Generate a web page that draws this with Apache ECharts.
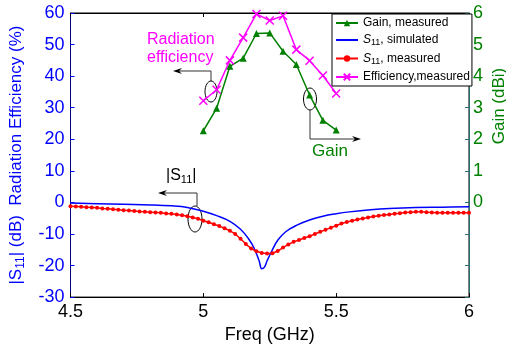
<!DOCTYPE html>
<html>
<head>
<meta charset="utf-8">
<script src="https://cdn.jsdelivr.net/npm/echarts@6/dist/echarts.min.js"></script>
<style>
  html, body { margin: 0; padding: 0; background: #fff; }
  #chart { width: 506px; height: 349px; }
</style>
</head>
<body>
<div id="chart"></div>
<script>
// frequency points for gain / efficiency (GHz)
var freqMeas = [5.0, 5.05, 5.1, 5.15, 5.2, 5.25, 5.3, 5.35, 5.4, 5.45, 5.5];
var gainMeas = [2.27, 2.98, 4.31, 4.57, 5.35, 5.37, 4.79, 4.37, 3.40, 2.60, 2.29];
var effMeas = [32.2, 35.7, 45.0, 52.2, 59.7, 57.6, 59.1, 48.4, 44.9, 40.2, 34.5];

// simulated |S11| (dB)
var s11SimFreq = [4.5, 4.6, 4.7, 4.8, 4.88, 4.94, 5.0, 5.05, 5.1, 5.14, 5.17, 5.19, 5.21, 5.22,
  5.23, 5.24, 5.26, 5.28, 5.31, 5.35, 5.4, 5.45, 5.5, 5.55, 5.63, 5.7, 5.8, 5.9, 6.0];
var s11Sim = [-0.2, -0.4, -0.6, -0.8, -1.1, -1.6, -2.8, -4.2, -6.0, -8.5, -11.5, -14.3, -18.5, -21.0,
  -20.5, -18.5, -15.0, -12.0, -9.3, -7.3, -5.6, -4.4, -3.6, -3.0, -2.3, -1.9, -1.6, -1.5, -1.4];

// measured |S11| (dB), 4.5 .. 6.0 step 0.02
var s11MeasStart = 4.5, s11MeasStep = 0.02;
var s11Meas = [-1.2, -1.3, -1.4, -1.5, -1.6, -1.7, -1.9, -2.0, -2.2, -2.3,
  -2.5, -2.6, -2.7, -2.9, -3.0, -3.1, -3.2, -3.3, -3.5, -3.6,
  -3.8, -4.1, -4.4, -4.8, -5.2, -5.8, -6.3, -6.9, -7.5, -8.2,
  -9.0, -10.0, -11.5, -13.2, -14.6, -15.5, -16.0, -16.2, -16.1, -15.4,
  -14.3, -13.3, -12.5, -11.9, -11.3, -10.7, -10.0, -9.3, -8.7, -8.0,
  -7.4, -6.7, -6.2, -5.8, -5.4, -5.1, -4.8, -4.5, -4.2, -4.0,
  -3.8, -3.6, -3.4, -3.2, -3.1, -3.0, -3.0, -3.1, -3.2, -3.3,
  -3.3, -3.3, -3.3, -3.3, -3.3, -3.3];

var FONT = 'Liberation Sans, Arial, sans-serif';
var BLUE = '#0000ff', GREEN = '#008000', MAGENTA = '#ff00ff', RED = '#ff0000';

function pairs(xs, ys) {
  return ys.map(function (v, i) { return [xs[i], v]; });
}
var s11MeasData = s11Meas.map(function (v, i) {
  return [+(s11MeasStart + i * s11MeasStep).toFixed(2), v];
});

var chart = echarts.init(document.getElementById('chart'));

var cross = 'path://M0,0 L10,10 M10,0 L0,10';

chart.setOption({
  animation: false,
  grid: { left: 70, right: 37, top: 13, bottom: 44, show: true, borderColor: '#000', borderWidth: 1 },
  legend: {
    orient: 'vertical',
    left: 332, top: 14,
    backgroundColor: '#fff',
    borderColor: '#000', borderWidth: 1,
    padding: [3, 2, 3, 3],
    itemGap: 5, itemWidth: 22, itemHeight: 8,
    textStyle: {
      fontFamily: FONT, fontSize: 12, color: '#000',
      rich: {
        i: { fontFamily: FONT, fontSize: 12, fontStyle: 'italic', color: '#000' },
        s: { fontFamily: FONT, fontSize: 9, color: '#000', padding: [6, 0, 0, 0] }
      }
    },
    formatter: function (name) {
      if (name.indexOf('S11') === 0) return '{i|S}{s|11}' + name.slice(3);
      return name;
    },
    data: [
      'Gain, measured',
      { name: 'S11, simulated', itemStyle: { color: 'rgba(0,0,0,0)', borderWidth: 0 } },
      'S11, measured',
      'Efficiency,measured'
    ]
  },
  xAxis: [{
    type: 'value', min: 4.5, max: 6, interval: 0.5,
    name: 'Freq (GHz)', nameLocation: 'middle', nameGap: 27,
    nameTextStyle: { fontFamily: FONT, fontSize: 18, color: '#000' },
    axisLine: { onZero: false, lineStyle: { color: '#000', width: 1 } },
    axisTick: { inside: true, length: 4, lineStyle: { color: '#000' } },
    axisLabel: { fontFamily: FONT, fontSize: 18, color: '#000', margin: 6 },
    splitLine: { show: false }
  }, {
    type: 'value', min: 4.5, max: 6, interval: 0.5, position: 'top',
    axisLine: { onZero: false, lineStyle: { color: '#000' } },
    axisTick: { inside: true, length: 4, lineStyle: { color: '#000' } },
    axisLabel: { show: false },
    splitLine: { show: false }
  }],
  yAxis: [{
    type: 'value', min: -30, max: 60, interval: 10, position: 'left',
    name: '|S{s|11}| (dB)  Radiation Efficiency (%)',
    nameLocation: 'middle', nameGap: 44,
    nameTextStyle: {
      fontFamily: FONT, fontSize: 17, color: BLUE,
      rich: { s: { fontFamily: FONT, fontSize: 12, color: BLUE, padding: [8, 0, 0, 0] } }
    },
    axisLine: { onZero: false, lineStyle: { color: '#00007f', width: 1 } },
    axisTick: { inside: true, length: 4, lineStyle: { color: BLUE } },
    axisLabel: { fontFamily: FONT, fontSize: 18, color: BLUE, margin: 6 },
    splitLine: { show: false }
  }, {
    type: 'value', min: -3, max: 6, interval: 1, position: 'right',
    axisLine: { onZero: false, lineStyle: { color: '#267373', width: 1 } },
    axisTick: { inside: true, length: 4, lineStyle: { color: '#267373' } },
    axisLabel: {
      fontFamily: FONT, fontSize: 18, color: GREEN, margin: 4,
      formatter: function (v) { return v >= 0 ? String(v) : ''; }
    },
    splitLine: { show: false }
  }],
  series: [{
    name: 'S11, simulated', type: 'line', yAxisIndex: 0,
    data: pairs(s11SimFreq, s11Sim), smooth: 0.4,
    showSymbol: false, symbol: 'none',
    lineStyle: { color: BLUE, width: 1.5 }, itemStyle: { color: BLUE }
  }, {
    name: 'S11, measured', type: 'line', yAxisIndex: 0,
    data: s11MeasData,
    symbol: 'circle', symbolSize: 4,
    lineStyle: { color: RED, width: 1.5 }, itemStyle: { color: RED }
  }, {
    name: 'Gain, measured', type: 'line', yAxisIndex: 1,
    data: pairs(freqMeas, gainMeas),
    symbol: 'triangle', symbolSize: 7,
    lineStyle: { color: GREEN, width: 1.5 }, itemStyle: { color: GREEN }
  }, {
    name: 'Efficiency,measured', type: 'line', yAxisIndex: 0,
    data: pairs(freqMeas, effMeas),
    symbol: cross, symbolSize: 8,
    lineStyle: { color: MAGENTA, width: 1.5 },
    itemStyle: { color: MAGENTA, borderColor: MAGENTA, borderWidth: 1.5 }
  }],
  graphic: [
    // Radiation efficiency annotation
    { type: 'text', left: 147, top: 31, style: { text: 'Radiation\nefficiency', fill: MAGENTA, font: '16px ' + FONT, lineHeight: 18 } },
    { type: 'polyline', shape: { points: [[211, 81], [211, 71], [178, 71]] }, style: { stroke: '#333', lineWidth: 1, fill: null } },
    { type: 'polygon', shape: { points: [[173, 71], [182, 68], [179, 71], [182, 74]] }, style: { fill: '#000' } },
    { type: 'ellipse', shape: { cx: 211, cy: 91.5, rx: 6, ry: 10.5 }, style: { stroke: '#000', fill: null, lineWidth: 1 } },
    // Gain annotation
    { type: 'ellipse', shape: { cx: 310, cy: 99, rx: 6.5, ry: 11 }, style: { stroke: '#000', fill: null, lineWidth: 1 } },
    { type: 'polyline', shape: { points: [[310, 110], [310, 139], [356, 139]] }, style: { stroke: '#333', lineWidth: 1, fill: null } },
    { type: 'polygon', shape: { points: [[361, 139], [352, 136], [355, 139], [352, 142]] }, style: { fill: '#000' } },
    { type: 'text', left: 312, top: 143, style: { text: 'Gain', fill: GREEN, font: '17px ' + FONT } },
    // |S11| annotation
    { type: 'text', left: 166, top: 168, style: {
        text: '|S{s|11}|', fill: '#000', font: '16px ' + FONT,
        rich: { s: { fontFamily: FONT, fontSize: 11, fill: '#000', padding: [8, 0, 0, 0] } } } },
    { type: 'polyline', shape: { points: [[197, 206], [197, 193], [163, 193]] }, style: { stroke: '#333', lineWidth: 1, fill: null } },
    { type: 'polygon', shape: { points: [[158, 193], [167, 190], [164, 193], [167, 196]] }, style: { fill: '#000' } },
    { type: 'ellipse', shape: { cx: 195, cy: 219, rx: 7, ry: 13 }, style: { stroke: '#000', fill: null, lineWidth: 1 } },
    // right axis name
    { type: 'text', x: 499, y: 106, rotation: Math.PI / 2,
      style: { text: 'Gain (dBi)', fill: GREEN, font: '17px ' + FONT, align: 'center', verticalAlign: 'middle' } }
  ]
});
</script>
</body>
</html>
